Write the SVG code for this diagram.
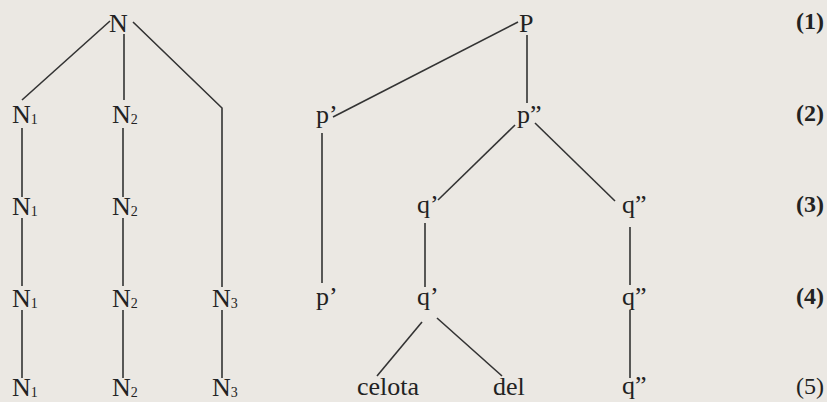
<svg xmlns="http://www.w3.org/2000/svg" width="827" height="402" viewBox="0 0 827 402">
<style>
text{font-family:"Liberation Serif","Times New Roman",serif;font-size:26px;fill:#222}
.s{font-size:14px}
.lab{font-size:24px;font-weight:bold}
.lab5{font-size:24px}
#connectors line,#connectors polyline{stroke:#333;stroke-width:1.6;fill:none}
</style>
<rect width="827" height="402" fill="#ebe8e3"/>
<g id="connectors">
<line x1="110" y1="21" x2="22" y2="100"/>
<line x1="124" y1="34" x2="124" y2="100"/>
<polyline points="133,22 222,108 222,287"/>
<line x1="22" y1="128" x2="22" y2="197"/>
<line x1="22" y1="218" x2="22" y2="286"/>
<line x1="22" y1="310" x2="22" y2="378"/>
<line x1="123" y1="128" x2="123" y2="197"/>
<line x1="123" y1="218" x2="123" y2="286"/>
<line x1="123" y1="310" x2="123" y2="378"/>
<line x1="222" y1="310" x2="222" y2="378"/>
<line x1="518" y1="22" x2="333" y2="117"/>
<line x1="527" y1="35" x2="527" y2="103"/>
<line x1="322" y1="133" x2="322" y2="283"/>
<line x1="515" y1="125" x2="438" y2="200"/>
<line x1="535" y1="123" x2="615" y2="201"/>
<line x1="425" y1="223" x2="425" y2="287"/>
<line x1="422" y1="322" x2="377" y2="376"/>
<line x1="437" y1="318" x2="502" y2="376"/>
<line x1="630" y1="227" x2="630" y2="285"/>
<line x1="630" y1="310" x2="630" y2="378"/>
</g>
<g id="N"><text x="109" y="32">N</text></g>
<g id="P"><text x="519" y="32">P</text></g>
<g id="N1-2"><text x="12" y="123">N<tspan class="s" dy="1">1</tspan></text></g>
<g id="N2-2"><text x="112" y="123">N<tspan class="s" dy="1">2</tspan></text></g>
<g id="p1-2"><text x="316" y="123">p’</text></g>
<g id="p2-2"><text x="517" y="123">p”</text></g>
<g id="N1-3"><text x="12" y="215">N<tspan class="s" dy="1">1</tspan></text></g>
<g id="N2-3"><text x="112" y="215">N<tspan class="s" dy="1">2</tspan></text></g>
<g id="q1-3"><text x="417" y="213">q’</text></g>
<g id="q2-3"><text x="622" y="213">q”</text></g>
<g id="N1-4"><text x="12" y="307">N<tspan class="s" dy="1">1</tspan></text></g>
<g id="N2-4"><text x="112" y="307">N<tspan class="s" dy="1">2</tspan></text></g>
<g id="N3-4"><text x="212" y="307">N<tspan class="s" dy="1">3</tspan></text></g>
<g id="p1-4"><text x="316" y="305">p’</text></g>
<g id="q1-4"><text x="417" y="305">q’</text></g>
<g id="q2-4"><text x="622" y="305">q”</text></g>
<g id="N1-5"><text x="12" y="396">N<tspan class="s" dy="1">1</tspan></text></g>
<g id="N2-5"><text x="112" y="396">N<tspan class="s" dy="1">2</tspan></text></g>
<g id="N3-5"><text x="212" y="396">N<tspan class="s" dy="1">3</tspan></text></g>
<g id="celota"><text x="357" y="395">celota</text></g>
<g id="del"><text x="493" y="395">del</text></g>
<g id="q2-5"><text x="622" y="394">q”</text></g>
<g id="labels">
<text class="lab" x="824" y="29" text-anchor="end">(1)</text>
<text class="lab" x="824" y="121" text-anchor="end">(2)</text>
<text class="lab" x="824" y="212" text-anchor="end">(3)</text>
<text class="lab" x="824" y="304" text-anchor="end">(4)</text>
<text class="lab5" x="824" y="394" text-anchor="end">(5)</text>
</g>
</svg>
